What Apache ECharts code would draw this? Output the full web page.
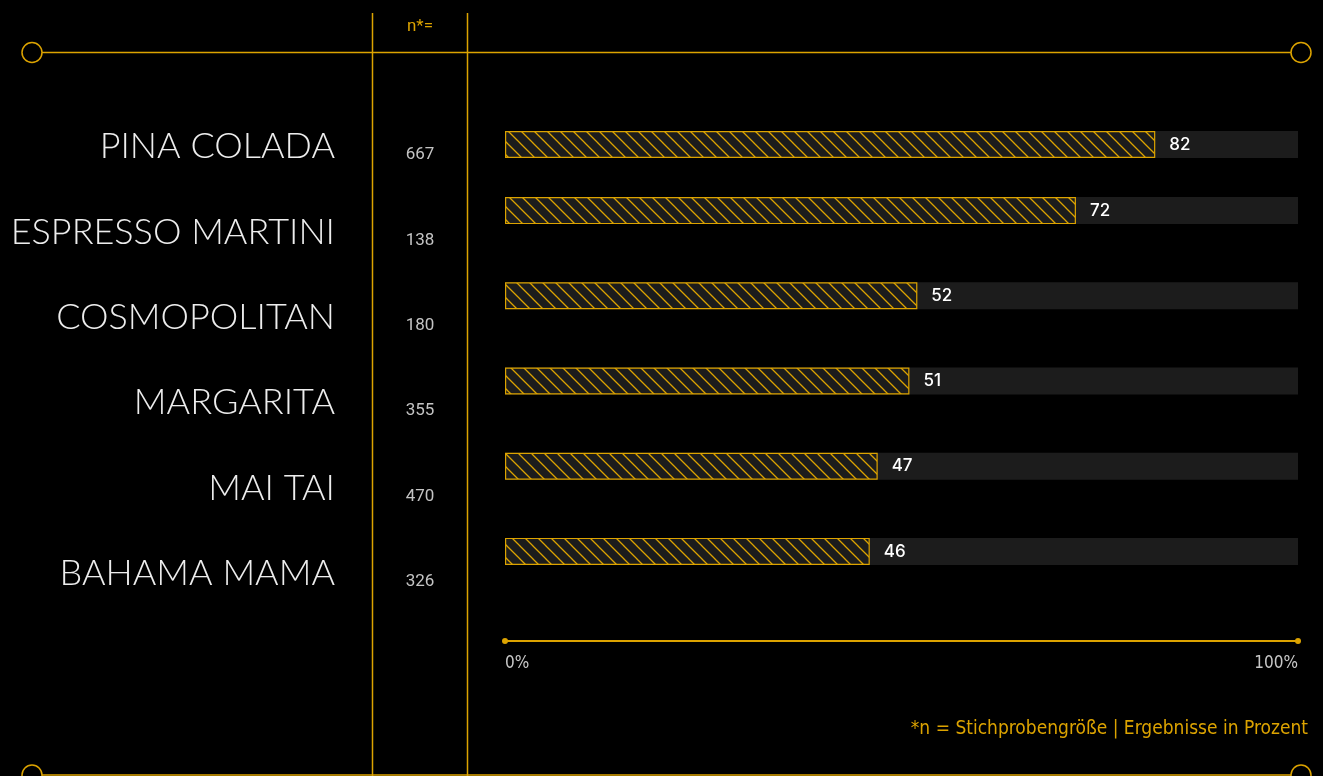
<!DOCTYPE html>
<html>
<head>
<meta charset="utf-8">
<title>Cocktails</title>
<script src="https://cdn.jsdelivr.net/npm/echarts@6/dist/echarts.min.js"></script>
<style>
  html, body { margin: 0; padding: 0; background: #000; }
  #main { width: 1323px; height: 776px; }
</style>
</head>
<body>
<div id="main"></div>
<script>
// data
var cocktails = ['PINA COLADA', 'ESPRESSO MARTINI', 'COSMOPOLITAN', 'MARGARITA', 'MAI TAI', 'BAHAMA MAMA'];
var sampleSizes = ['667', '138', '180', '355', '470', '326'];
var shares = [82, 72, 52, 51, 47, 46];
var axisTicks = ['0%', '100%'];

var gold = '#dca300';
var track = '#1c1c1c';
var narrow = '"DejaVu Sans Condensed", "Roboto", sans-serif';

// hatch tile for the bars
function hatch() {
  var c = document.createElement('canvas');
  c.width = 13; c.height = 13;
  var g = c.getContext('2d');
  g.fillStyle = track;
  g.fillRect(0, 0, 13, 13);
  g.strokeStyle = gold;
  g.lineWidth = 1.3;
  g.beginPath();
  g.moveTo(-2, -2); g.lineTo(15, 15);
  g.moveTo(-2, 11); g.lineTo(2, 15);
  g.moveTo(11, -2); g.lineTo(15, 2);
  g.stroke();
  return c;
}
var pattern = { image: hatch(), repeat: 'repeat' };

function barSeries(idx, values) {
  return {
    type: 'bar',
    xAxisIndex: idx, yAxisIndex: idx,
    data: values,
    barWidth: 27,
    showBackground: true,
    backgroundStyle: { color: track },
    itemStyle: { color: pattern, borderColor: gold, borderWidth: 1.2 },
    label: {
      show: true, position: 'right', distance: 14,
      color: '#fff', fontFamily: 'Inter', fontSize: 17, fontWeight: 500
    },
    silent: true
  };
}

var chart = echarts.init(document.getElementById('main'));
chart.setOption({
  backgroundColor: '#000',
  animation: false,
  grid: [
    { left: 505, width: 793, top: 118, height: 53, outerBoundsMode: 'none' },   // first bar
    { left: 505, width: 793, top: 168, height: 426, outerBoundsMode: 'none' },  // other bars
    { left: 505, width: 793, top: 104, height: 512, outerBoundsMode: 'none' }   // labels
  ],
  xAxis: [
    { gridIndex: 0, type: 'value', min: 0, max: 100, show: false },
    { gridIndex: 1, type: 'value', min: 0, max: 100, interval: 100, offset: 47,
      axisLine: { show: true, symbol: ['circle', 'circle'], symbolSize: [6, 6],
                  lineStyle: { color: gold, width: 2 } },
      axisTick: { show: false }, splitLine: { show: false },
      axisLabel: {
        color: '#c8c8c8', fontFamily: narrow, fontSize: 17, margin: 14,
        alignMinLabel: 'left', alignMaxLabel: 'right',
        formatter: function (v) { return v === 0 ? axisTicks[0] : axisTicks[1]; }
      } },
    { gridIndex: 2, type: 'value', min: 0, max: 100, show: false }
  ],
  yAxis: [
    { gridIndex: 0, type: 'category', inverse: true, data: cocktails.slice(0, 1), show: false },
    { gridIndex: 1, type: 'category', inverse: true, data: cocktails.slice(1), show: false },
    { gridIndex: 2, type: 'category', inverse: true, data: cocktails,
      axisLine: { show: false }, axisTick: { show: false },
      axisLabel: { margin: 170, color: '#ededed', fontFamily: 'Lato', fontWeight: 300, fontSize: 36 } },
    { gridIndex: 2, type: 'category', inverse: true, data: sampleSizes, position: 'left',
      axisLine: { show: false }, axisTick: { show: false },
      axisLabel: { margin: 85, align: 'center', verticalAlign: 'top',
                   color: '#c4c4c4', fontFamily: 'Roboto', fontSize: 17 } }
  ],
  series: [
    barSeries(0, shares.slice(0, 1)),
    barSeries(1, shares.slice(1))
  ],
  graphic: [
    { type: 'line', shape: { x1: 42, y1: 52.5, x2: 1291, y2: 52.5 }, style: { stroke: gold, lineWidth: 1.5 } },
    { type: 'line', shape: { x1: 42, y1: 775, x2: 1291, y2: 775 }, style: { stroke: gold, lineWidth: 1.5 } },
    { type: 'circle', shape: { cx: 32, cy: 52.5, r: 10 }, style: { fill: 'none', stroke: gold, lineWidth: 1.5 } },
    { type: 'circle', shape: { cx: 1301, cy: 52.5, r: 10 }, style: { fill: 'none', stroke: gold, lineWidth: 1.5 } },
    { type: 'circle', shape: { cx: 32, cy: 775, r: 10 }, style: { fill: 'none', stroke: gold, lineWidth: 1.5 } },
    { type: 'circle', shape: { cx: 1301, cy: 775, r: 10 }, style: { fill: 'none', stroke: gold, lineWidth: 1.5 } },
    { type: 'line', shape: { x1: 372.5, y1: 13, x2: 372.5, y2: 776 }, style: { stroke: gold, lineWidth: 1.5 } },
    { type: 'line', shape: { x1: 467.5, y1: 13, x2: 467.5, y2: 776 }, style: { stroke: gold, lineWidth: 1.5 } },
    { type: 'text', x: 420, y: 27, style: { text: 'n*=', fill: gold, fontFamily: 'Roboto', fontSize: 17,
      textAlign: 'center', textVerticalAlign: 'middle' } },
    { type: 'text', x: 1308, y: 729, style: { text: '*n = Stichprobengröße | Ergebnisse in Prozent', fill: gold,
      fontFamily: narrow, fontSize: 19, textAlign: 'right', textVerticalAlign: 'middle' } }
  ]
});
</script>
</body>
</html>
